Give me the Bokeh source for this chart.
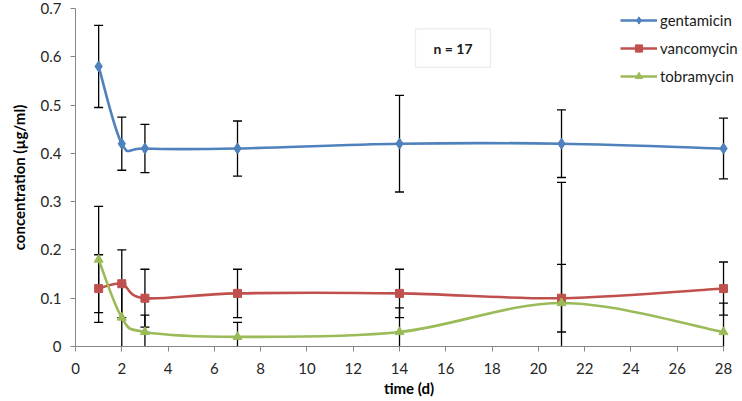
from bokeh.plotting import figure
from bokeh.models import (ColumnDataSource, Whisker, TeeHead, Legend, LegendItem,
                          FixedTicker, BoxAnnotation, Label, Range1d)
from bokeh.embed import file_html
from bokeh.resources import INLINE

# ---- data ----
time_d = [1, 2, 3, 7, 14, 21, 28]
gentamicin = [0.58, 0.42, 0.41, 0.41, 0.42, 0.42, 0.41]
gentamicin_err = [0.085, 0.055, 0.05, 0.057, 0.10, 0.07, 0.063]
vancomycin = [0.12, 0.13, 0.10, 0.11, 0.11, 0.10, 0.12]
vancomycin_err = [0.07, 0.07, 0.06, 0.05, 0.05, 0.07, 0.055]
tobramycin = [0.18, 0.06, 0.03, 0.02, 0.03, 0.09, 0.03]
tobramycin_err = [0.11, 0.07, 0.035, 0.03, 0.05, 0.25, 0.06]

x_ticks = [0, 2, 4, 6, 8, 10, 12, 14, 16, 18, 20, 22, 24, 26, 28]
y_ticks = [0, 0.1, 0.2, 0.3, 0.4, 0.5, 0.6, 0.7]
y_tick_labels = ["0", "0.1", "0.2", "0.3", "0.4", "0.5", "0.6", "0.7"]

series = [
    ("gentamicin", gentamicin, gentamicin_err, "#4F81BD", "diamond", 11),
    ("vancomycin", vancomycin, vancomycin_err, "#C0504D", "square", 8),
    ("tobramycin", tobramycin, tobramycin_err, "#9BBB59", "triangle", 9),
]

FONT = "Lato"

# x range runs a little past day 28 to leave room for the legend; axis is bounded to 0..28
p = figure(width=742, height=401, x_range=Range1d(0, 28.82), y_range=Range1d(0, 0.7),
           output_backend="svg", toolbar_location=None,
           min_border_left=75, min_border_right=0, min_border_top=8, min_border_bottom=55)
p.outline_line_color = None
p.xgrid.visible = False
p.ygrid.visible = False
p.background_fill_color = "white"
p.border_fill_color = "white"

for ax in (p.xaxis[0], p.yaxis[0]):
    ax.axis_line_color = "#868686"
    ax.axis_line_width = 1
    ax.major_tick_line_color = "#868686"
    ax.major_tick_in = 0
    ax.major_tick_out = 5
    ax.minor_tick_line_color = None
    ax.major_label_text_font = FONT
    ax.major_label_text_font_size = "15px"
    ax.major_label_text_color = "#262626"
    ax.axis_label_text_font = FONT
    ax.axis_label_text_font_size = "15px"
    ax.axis_label_text_font_style = "bold"
    ax.axis_label_text_color = "#000000"

p.xaxis.bounds = (0, 28)
p.xaxis.ticker = FixedTicker(ticks=x_ticks)
p.yaxis.ticker = FixedTicker(ticks=y_ticks)
p.yaxis.major_label_overrides = {t: l for t, l in zip(y_ticks, y_tick_labels)}
p.xaxis.axis_label = "time (d)"
p.yaxis.axis_label = "concentration (µg/ml)"
p.xaxis.major_label_standoff = 11
p.xaxis.axis_label_standoff = 2
p.yaxis.major_label_standoff = 9
p.yaxis.axis_label_standoff = 10


def bezier_segments(xs, ys):
    """Excel-style smoothed line: cubic Bezier segments through the data points."""
    n = len(xs)
    seg = dict(x0=[], y0=[], x1=[], y1=[], cx0=[], cy0=[], cx1=[], cy1=[])
    for i in range(n - 1):
        im1 = max(i - 1, 0)
        ip2 = min(i + 2, n - 1)
        seg["x0"].append(xs[i]); seg["y0"].append(ys[i])
        seg["x1"].append(xs[i + 1]); seg["y1"].append(ys[i + 1])
        seg["cx0"].append(xs[i] + (xs[i + 1] - xs[im1]) / 6.0)
        seg["cy0"].append(ys[i] + (ys[i + 1] - ys[im1]) / 6.0)
        seg["cx1"].append(xs[i + 1] - (xs[ip2] - xs[i]) / 6.0)
        seg["cy1"].append(ys[i + 1] - (ys[ip2] - ys[i]) / 6.0)
    return seg


items = []
for name, vals, errs, color, marker, size in series:
    src = ColumnDataSource(dict(
        x=time_d, y=vals,
        upper=[v + e for v, e in zip(vals, errs)],
        lower=[v - e for v, e in zip(vals, errs)],
    ))
    w = Whisker(base="x", upper="upper", lower="lower", source=src,
                line_color="black", line_width=1.3, level="underlay",
                upper_head=TeeHead(size=9, line_color="black", line_width=1.3),
                lower_head=TeeHead(size=9, line_color="black", line_width=1.3))
    p.add_layout(w)

for name, vals, errs, color, marker, size in series:
    bsrc = ColumnDataSource(bezier_segments(time_d, vals))
    br = p.bezier(x0="x0", y0="y0", x1="x1", y1="y1", cx0="cx0", cy0="cy0",
                  cx1="cx1", cy1="cy1", source=bsrc, line_color=color, line_width=2.6)
    sr = p.scatter(x=time_d, y=vals, marker=marker, size=size,
                   fill_color=color, line_color=color)
    items.append(LegendItem(label=name, renderers=[br, sr]))

legend = Legend(items=items, location=(545, 261), orientation="vertical",
                glyph_width=37, glyph_height=18, label_height=18, spacing=10,
                padding=0, margin=0, label_standoff=3,
                border_line_color=None, background_fill_alpha=0,
                label_text_font=FONT, label_text_font_size="15px",
                label_text_color="#1a1a1a")
p.add_layout(legend, "center")

box = BoxAnnotation(left=14.69, right=17.93, top=0.658, bottom=0.578,
                    fill_color="white", fill_alpha=1.0,
                    line_color="#BFBFBF", line_width=1.2, level="annotation")
p.add_layout(box)
p.add_layout(Label(x=16.31, y=0.618, text="n = 17", text_align="center",
                   text_baseline="middle", text_font=FONT, text_font_size="14px",
                   text_font_style="bold", text_color="#1a1a1a", level="overlay"))

open("out.html", "w").write(file_html(p, INLINE))
